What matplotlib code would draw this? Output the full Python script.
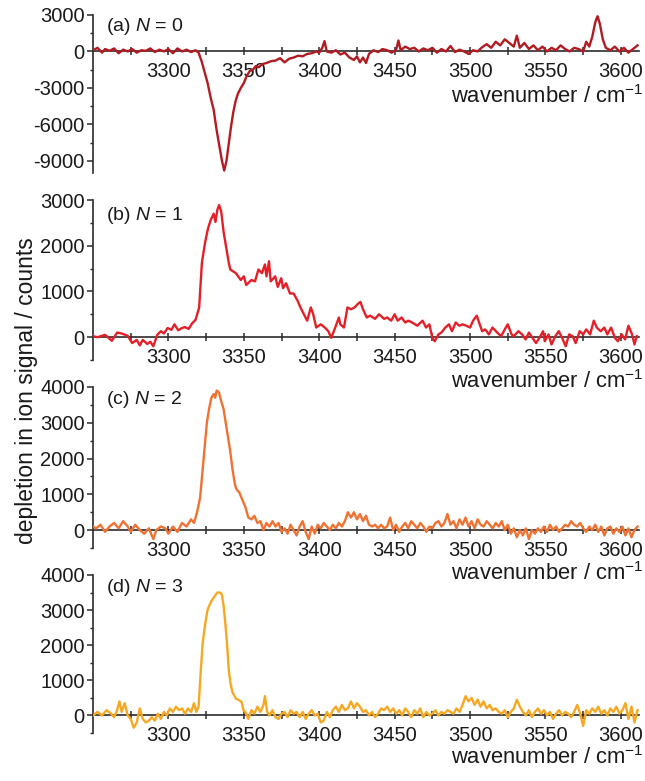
import matplotlib
matplotlib.use('Agg')
import matplotlib.pyplot as plt
from matplotlib.ticker import MultipleLocator

plt.rcParams['font.family'] = ['Liberation Sans', 'DejaVu Sans']
plt.rcParams['mathtext.fontset'] = 'custom'
plt.rcParams['mathtext.rm'] = 'Liberation Sans'
plt.rcParams['mathtext.it'] = 'Liberation Sans:italic'
plt.rcParams['axes.unicode_minus'] = False

# ---------------- data (wavenumber / cm-1, depletion counts) ----------------
spec_a = [(3250,100),(3253,300),(3256,-100),(3258,200),(3261,50),(3264,250),(3267,-150),(3270,150),
          (3273,0),(3276,200),(3279,-100),(3282,100),(3285,50),(3288,250),(3291,-50),(3294,150),
          (3297,0),(3300,200),(3303,-150),(3306,250),(3309,0),(3312,150),(3315,-50),(3318,100),
          (3320,-100),(3322,-800),(3324,-1700),(3326,-2600),(3328,-3800),(3330,-4800),(3332,-6500),
          (3334,-7900),(3335.5,-9000),(3337,-9800),(3338.5,-9000),(3340,-7600),(3341.5,-6200),
          (3343,-5000),(3344.5,-4100),(3346,-3500),(3348,-3000),(3350,-2600),(3352,-2000),(3354,-1600),
          (3356,-1500),(3358,-1200),(3360,-1300),(3362,-1050),(3365,-950),(3368,-800),(3371,-750),
          (3374,-550),(3377,-900),(3380,-600),(3383,-500),(3386,-350),(3389,-400),(3392,-200),
          (3395,-150),(3398,0),(3400,-100),(3402,300),(3403.5,850),(3405,0),(3408,-100),(3411,100),
          (3414,-250),(3417,-100),(3420,-500),(3423,-700),(3425,-400),(3427,-900),(3429,-500),
          (3431,-950),(3433,-200),(3436,100),(3439,-50),(3442,200),(3445,100),(3448,-100),(3451,150),
          (3452.5,900),(3454,100),(3457,400),(3460,200),(3463,300),(3466,0),(3469,250),(3472,100),
          (3475,300),(3478,-100),(3481,200),(3484,0),(3487,450),(3490,-50),(3493,150),(3496,0),
          (3499,-200),(3502,100),(3505,0),(3508,350),(3511,600),(3514,300),(3517,800),(3520,500),
          (3523,1000),(3526,700),(3529,400),(3531,1300),(3533,300),(3536,700),(3539,200),(3542,500),
          (3545,100),(3548,400),(3551,0),(3554,300),(3557,100),(3560,500),(3563,200),(3566,0),
          (3569,300),(3572,200),(3575,0),(3577,800),(3579,400),(3581,1200),(3583,2400),(3584.5,2900),
          (3586,2300),(3588,1000),(3590,300),(3593,100),(3596,400),(3599,0),(3602,300),(3605,-100),
          (3608,200),(3611,500)]

spec_b = [(3250,20),(3253,0),(3258,50),(3262.5,-80),(3266,100),(3269,80),(3273,30),(3276,-130),
          (3279,-60),(3281,-180),(3283,-60),(3286,-150),(3288,-100),(3290,-200),(3292.6,50),(3295,130),
          (3297,80),(3299.5,200),(3302,160),(3304,280),(3306.5,150),(3309,200),(3311,220),(3313.4,180),
          (3315.7,300),(3318,380),(3320.4,650),(3322.2,1630),(3324.3,2070),(3326.2,2370),(3328,2560),
          (3330,2700),(3331.2,2520),(3332.4,2780),(3333.6,2890),(3335,2750),(3336.6,2300),(3340,1630),
          (3341,1480),(3344.7,1400),(3348,1250),(3350,1330),(3351.6,1140),(3355,1250),(3357.4,1220),
          (3359.7,1480),(3362,1400),(3364,1590),(3365,1330),(3366.7,1660),(3367.8,1220),(3370.8,1330),
          (3372.5,1100),(3374.8,1290),(3376,1070),(3378,1180),(3380.6,955),(3383,955),(3385.6,800),
          (3387.5,650),(3389.8,500),(3392,360),(3394.4,650),(3396,500),(3398,210),(3401,280),
          (3403.7,210),(3406,130),(3408,-15),(3410.6,210),(3413,430),(3414,280),(3416.4,210),
          (3418.7,650),(3421,610),(3423.4,650),(3425.7,730),(3427.3,770),(3429,610),(3431.5,430),
          (3433.8,470),(3437,400),(3439.6,500),(3443,400),(3445,430),(3447.7,360),(3450,500),(3452,360),
          (3454.6,430),(3457,320),(3459,360),(3461.6,320),(3465,250),(3468.5,360),(3470.8,210),
          (3473,280),(3475,-15),(3476.6,-90),(3479,60),(3481,100),(3483.6,210),(3486,280),(3488,130),
          (3490.5,320),(3492.8,250),(3495,280),(3497.5,250),(3500,210),(3502,360),(3504.4,470),
          (3506,320),(3508,130),(3510,170),(3512.5,60),(3514.8,210),(3518,100),(3520.6,20),(3523,170),
          (3525,280),(3527.5,60),(3529,20),(3532,130),(3534.5,60),(3536.8,-50),(3539,100),(3541.4,-15),
          (3543.7,-130),(3546,-15),(3548.4,130),(3549.5,-90),(3552,60),(3554,-160),(3556.5,20),
          (3558.8,130),(3561,-15),(3563.4,-200),(3565.7,60),(3568,20),(3570,-130),(3572.7,130),
          (3575,60),(3577,170),(3579.6,60),(3582,360),(3584,210),(3586.6,130),(3589,210),(3591,60),
          (3593.5,210),(3596,-15),(3598,-90),(3600.5,60),(3602.8,-50),(3605,250),(3607.4,60),
          (3609,-160),(3610.5,20)]

spec_c = [(3250,100),(3252,50),(3255,150),(3258,-50),(3261,100),(3264,200),(3267,50),(3270,250),
          (3273,100),(3275,-50),(3278,150),(3281,0),(3284,-100),(3287,50),(3290,-250),(3292,0),
          (3295,100),(3298,50),(3300,-100),(3303,100),(3306,-50),(3309,200),(3312,100),(3315,300),
          (3317,200),(3319,500),(3321,900),(3322.5,1600),(3324,2300),(3325.5,3000),(3327,3400),
          (3328.5,3700),(3330,3800),(3331,3700),(3332,3900),(3333.5,3850),(3335,3600),(3336.5,3400),
          (3338,3000),(3339.5,2600),(3341,2200),(3342.5,1700),(3344,1300),(3345,1150),(3347,1050),
          (3349,850),(3351,650),(3353,350),(3355,300),(3357,400),(3359,200),(3361,250),(3363,0),
          (3365,200),(3367,100),(3369,250),(3371,100),(3373,200),(3375,-50),(3377,50),(3379,-100),
          (3381,150),(3383,0),(3385,-150),(3387,100),(3389,250),(3391,-50),(3393,-250),(3395,100),
          (3397,-100),(3399,150),(3401,50),(3403,200),(3405,100),(3407,0),(3409,150),(3411,50),
          (3413,200),(3415,100),(3417,250),(3419,500),(3421,350),(3423,500),(3425,300),(3427,450),
          (3429,250),(3431,400),(3433,150),(3435,100),(3437,150),(3439,50),(3441,150),(3443,50),
          (3445,100),(3447,350),(3449,0),(3451,150),(3453,-50),(3455,100),(3457,200),(3459,50),
          (3461,250),(3463,150),(3465,50),(3467,200),(3469,100),(3471,-50),(3473,100),(3475,50),
          (3477,200),(3479,250),(3481,100),(3483,200),(3485,450),(3487,150),(3489,250),(3491,50),
          (3493,300),(3495,150),(3497,350),(3499,100),(3501,250),(3503,50),(3505,300),(3507,150),
          (3509,100),(3511,250),(3513,150),(3515,50),(3517,200),(3519,100),(3521,250),(3523,0),
          (3525,150),(3527,-100),(3529,50),(3531,-200),(3533,0),(3535,-150),(3537,50),(3539,-250),
          (3541,0),(3543,-100),(3545,50),(3547,-50),(3549,100),(3551,-50),(3553,150),(3555,0),
          (3557,100),(3559,-50),(3561,50),(3563,150),(3565,100),(3567,250),(3569,150),(3571,100),
          (3573,200),(3575,50),(3577,-50),(3579,100),(3581,0),(3583,150),(3585,-50),(3587,100),
          (3589,-150),(3591,50),(3593,100),(3595,-100),(3597,50),(3599,-50),(3601,100),(3603,-150),
          (3605,50),(3607,-200),(3609,0),(3611,100)]

spec_d = [(3250,0),(3253,100),(3256,0),(3259,150),(3262,50),(3264,-50),(3266,150),(3267.5,400),
          (3269,100),(3271,350),(3273,0),(3275,-100),(3277,-350),(3279,-200),(3281,200),(3283,-100),
          (3285,-200),(3287,-150),(3289,-50),(3291,-150),(3293,50),(3295,-100),(3297,100),(3299,0),
          (3301,200),(3303,100),(3305,250),(3307,150),(3309,200),(3311,50),(3313,200),(3315,100),
          (3317,350),(3318.5,100),(3320,250),(3320.4,530),(3321.5,1300),(3322.7,2060),(3324.5,2640),
          (3326,3020),(3328.5,3260),(3330.8,3400),(3332.4,3500),(3334.3,3500),(3335.4,3450),
          (3336.6,3120),(3337.7,2640),(3339,1970),(3340,1300),(3341.2,910),(3342.4,670),(3344.7,480),
          (3347,430),(3348.6,380),(3349.8,140),(3351,100),(3353,-100),(3355,150),(3357,50),(3359,250),
          (3361,100),(3363,300),(3364,550),(3365.5,100),(3367,0),(3369,150),(3371,-50),(3373,-100),
          (3375,50),(3377,100),(3379,-50),(3381,150),(3383,50),(3385,100),(3387,-50),(3389,100),
          (3391,-100),(3393,50),(3395,150),(3397,0),(3399,50),(3401,-200),(3403,-150),(3405,100),
          (3407,-50),(3409,150),(3411,250),(3413,100),(3415,300),(3417,150),(3419,200),(3421,400),
          (3423,200),(3425,350),(3427,250),(3429,100),(3431,150),(3433,0),(3435,100),(3437,-50),
          (3439,50),(3441,200),(3443,150),(3445,250),(3447,100),(3449,200),(3451,50),(3453,150),
          (3455,0),(3457,200),(3459,100),(3461,-50),(3463,150),(3465,50),(3467,200),(3469,-50),
          (3471,100),(3473,0),(3475,50),(3477,150),(3479,0),(3481,100),(3483,50),(3485,150),(3487,100),
          (3489,50),(3491,200),(3493,100),(3495,300),(3497,550),(3499,400),(3501,500),(3503,300),
          (3505,450),(3507,250),(3509,400),(3511,200),(3513,300),(3515,150),(3517,200),(3519,100),
          (3521,50),(3523,150),(3525,-50),(3527,100),(3529,200),(3531,450),(3533,250),(3535,100),
          (3537,0),(3539,150),(3541,-50),(3543,100),(3545,200),(3547,50),(3549,150),(3551,0),
          (3553,100),(3555,-100),(3557,50),(3559,150),(3561,0),(3563,100),(3565,50),(3567,-50),
          (3569,100),(3571,300),(3573,50),(3575,-300),(3577,150),(3579,50),(3581,200),(3583,100),
          (3585,250),(3587,50),(3589,150),(3591,0),(3593,200),(3595,100),(3597,250),(3599,50),
          (3601,150),(3603,350),(3605,-100),(3607,250),(3609,-200),(3611,150)]

panel_labels = ['(a) $N$ = 0', '(b) $N$ = 1', '(c) $N$ = 2', '(d) $N$ = 3']
x_ticks = [3300, 3350, 3400, 3450, 3500, 3550, 3600]
x_minor = [3275, 3325, 3375, 3425, 3475, 3525, 3575]
y_limits = [(-10000, 3000), (-500, 3000), (-500, 4000), (-500, 4000)]
y_major = [[-9000, -6000, -3000, 0, 3000], [0, 1000, 2000, 3000],
           [0, 1000, 2000, 3000, 4000], [0, 1000, 2000, 3000, 4000]]
y_minor_step = [1500, 500, 500, 500]
colors = ['#b31b22', '#e51f28', '#f07232', '#f7a823']
x_label = 'wavenumber / cm$^{-1}$'
y_label = 'depletion in ion signal / counts'

# ---------------- layout ----------------
W, H = 645, 781
left_px, right_px = 93, 639
panel_px = [(15, 173), (200, 360), (387, 548), (575, 733)]
label_y = [0.925, 0.905, 0.925, 0.918]
xlabel_offset_px = [45, 44, 43, 42]

fig = plt.figure(figsize=(W / 100, H / 100), dpi=100)
axis_col = '#2b2b2b'
txt_col = '#1a1a1a'
fs_tick = 14.5
fs_panel = 14
fs_xlabel = 15.8
fs_ylabel = 16.5

specs = [spec_a, spec_b, spec_c, spec_d]
for i, spec in enumerate(specs):
    top, bot = panel_px[i]
    hpx = bot - top
    ax = fig.add_axes([left_px / W, 1 - bot / H, (right_px - left_px) / W, hpx / H])
    xs = [p[0] for p in spec]
    ys = [p[1] for p in spec]
    ax.plot(xs, ys, color=colors[i], lw=1.7, solid_joinstyle='round', zorder=3)
    ax.set_xlim(3250, 3612)
    lo, hi = y_limits[i]
    ax.set_ylim(lo, hi)
    ax.spines['top'].set_visible(False)
    ax.spines['right'].set_visible(False)
    ax.spines['bottom'].set_position(('data', 0))
    for s in ('left', 'bottom'):
        ax.spines[s].set_color(axis_col)
        ax.spines[s].set_linewidth(1.2)
    ax.spines['bottom'].set_zorder(2)
    ax.set_xticks(x_ticks)
    ax.set_xticks(x_minor, minor=True)
    ax.set_yticks(y_major[i])
    ax.yaxis.set_minor_locator(MultipleLocator(y_minor_step[i]))
    ax.tick_params(axis='x', which='both', direction='inout', length=6, width=1.1,
                   color=axis_col, labelsize=fs_tick, pad=4.5, labelcolor=txt_col)
    ax.tick_params(axis='y', which='major', direction='out', length=4.5, width=1.1,
                   color=axis_col, labelsize=fs_tick, pad=1.5, labelcolor=txt_col)
    ax.tick_params(axis='y', which='minor', direction='out', length=2.5, width=1.0,
                   color=axis_col)
    ax.set_xlabel(x_label, fontsize=fs_xlabel, loc='right', color=txt_col)
    zero_frac = (0 - lo) / (hi - lo)
    ax.xaxis.set_label_coords(1.008, zero_frac - xlabel_offset_px[i] / hpx)
    ax.xaxis.label.set_va('center')
    ax.xaxis.label.set_ha('right')
    ax.text(0.023, label_y[i], panel_labels[i], transform=ax.transAxes, fontsize=fs_panel,
            ha='left', va='center', color=txt_col)
    ax.patch.set_alpha(0)

fig.text(0.041, 0.50, y_label, rotation=90, ha='center', va='center', fontsize=fs_ylabel,
         color=txt_col)

fig.savefig('out.png', dpi=100)
